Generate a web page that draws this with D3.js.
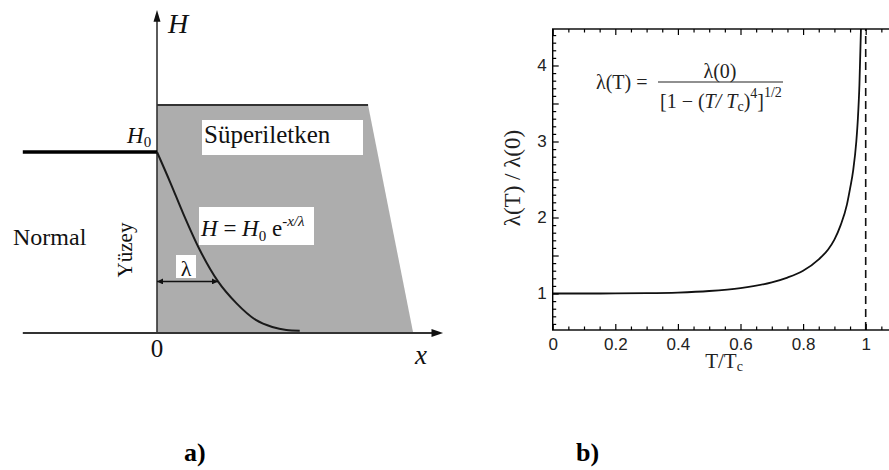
<!DOCTYPE html>
<html>
<head>
<meta charset="utf-8">
<script src="https://cdn.jsdelivr.net/npm/d3@7"></script>
<style>
  body { margin: 0; background: #fff; }
  svg { display: block; }
</style>
</head>
<body>
<svg id="chart"></svg>
<script>
// ---- panel a: field penetration sketch (x in units of lambda, H in units of H0)
const decayX = [0, 0.22, 0.43, 0.70, 1.0, 1.3, 1.62, 1.89, 2.12, 2.34];
const decayH = [1.0, 0.83, 0.66, 0.46, 0.285, 0.165, 0.072, 0.033, 0.017, 0.013];
const slabX = [0, 3.46, 4.2, 0];
const slabH = [1.26, 1.26, 0, 0];
const normalX = [-2.2, 0];
const lambdaMark = 1; // arrow length in lambda units

// ---- panel b: penetration depth vs temperature
const ratioT = [0, 0.1, 0.2, 0.3, 0.4, 0.5, 0.6, 0.7, 0.75, 0.8, 0.85, 0.88, 0.9, 0.92, 0.94, 0.95, 0.96, 0.97, 0.975, 0.98, 0.985];
const ratioL = [1, 1, 1.001, 1.004, 1.013, 1.033, 1.072, 1.147, 1.21, 1.30, 1.45, 1.58, 1.71, 1.9, 2.17, 2.38, 2.62, 3.0, 3.3, 3.75, 4.5];
const xMajor = [0, 0.2, 0.4, 0.6, 0.8, 1];
const yMajor = [1, 1.5, 2, 2.5, 3, 3.5, 4];
const yLabels = [1, 2, 3, 4];

const serif = 'Liberation Serif, Tinos, Times New Roman, DejaVu Serif, serif';
const sans = 'Liberation Sans, Arimo, Arial, sans-serif';

const svg = d3.select('#chart')
  .attr('width', 889)
  .attr('height', 470)
  .style('background', '#fff');

// ================= panel a =================
const a = svg.append('g');
const xA = d3.scaleLinear().domain([0, 1]).range([157, 218]);
const yA = d3.scaleLinear().domain([0, 1]).range([333, 152]);

const slab = slabX.map((x, i) => [x, slabH[i]]);
a.append('path')
  .attr('d', d3.line().x(d => xA(d[0])).y(d => yA(d[1]))(slab) + 'Z')
  .attr('fill', '#adadad');

a.append('line')
  .attr('x1', xA(slabX[0])).attr('x2', xA(slabX[1]))
  .attr('y1', yA(slabH[0])).attr('y2', yA(slabH[1]))
  .attr('stroke', '#333').attr('stroke-width', 2);

// white label boxes
a.append('rect').attr('x', 202).attr('y', 120).attr('width', 161).attr('height', 35).attr('fill', '#fff');
a.append('rect').attr('x', 199).attr('y', 207).attr('width', 115).attr('height', 38).attr('fill', '#fff');
a.append('rect').attr('x', 176).attr('y', 255).attr('width', 20).attr('height', 23).attr('fill', '#fff');

// axes with arrows
a.append('line')
  .attr('x1', xA(-2.2)).attr('x2', xA(4.55))
  .attr('y1', yA(0)).attr('y2', yA(0))
  .attr('stroke', '#333').attr('stroke-width', 2);
a.append('path')
  .attr('d', `M${xA(4.69)},${yA(0)} L${xA(4.5)},${yA(0) - 4} L${xA(4.5)},${yA(0) + 4}Z`)
  .attr('fill', '#111');
a.append('line')
  .attr('x1', xA(0)).attr('x2', xA(0))
  .attr('y1', yA(0)).attr('y2', yA(1.74))
  .attr('stroke', '#333').attr('stroke-width', 1.6);
a.append('path')
  .attr('d', `M${xA(0)},${yA(1.785)} L${xA(0) - 3.5},${yA(1.72)} L${xA(0) + 3.5},${yA(1.72)}Z`)
  .attr('fill', '#111');

// applied field outside
a.append('line')
  .attr('x1', xA(normalX[0])).attr('x2', xA(normalX[1]))
  .attr('y1', yA(1)).attr('y2', yA(1))
  .attr('stroke', '#000').attr('stroke-width', 3.5);

// decay curve
a.append('path')
  .datum(decayX.map((x, i) => [x, decayH[i]]))
  .attr('d', d3.line().x(d => xA(d[0])).y(d => yA(d[1])).curve(d3.curveMonotoneX))
  .attr('fill', 'none')
  .attr('stroke', '#1a1a1a')
  .attr('stroke-width', 2);

// lambda arrow
const defs = svg.append('defs');
defs.append('marker').attr('id', 'ah').attr('viewBox', '0 0 10 10')
  .attr('refX', 10).attr('refY', 5).attr('markerWidth', 7).attr('markerHeight', 6)
  .attr('orient', 'auto-start-reverse').attr('markerUnits', 'userSpaceOnUse')
  .append('path').attr('d', 'M0,0 L10,5 L0,10Z').attr('fill', '#111');
a.append('line')
  .attr('x1', xA(0)).attr('x2', xA(lambdaMark))
  .attr('y1', yA(0.285)).attr('y2', yA(0.285))
  .attr('stroke', '#111').attr('stroke-width', 1.5)
  .attr('marker-start', 'url(#ah)').attr('marker-end', 'url(#ah)');

// texts panel a
const ta = (x, y, size, txt) => a.append('text').attr('x', x).attr('y', y)
  .style('font-family', serif).attr('font-size', size).attr('fill', '#111').text(txt);

ta(168, 33, 28, 'H').attr('font-style', 'italic');
const h0 = a.append('text').attr('x', 127).attr('y', 143).style('font-family', serif).attr('font-size', 23).attr('fill', '#111');
h0.append('tspan').attr('font-style', 'italic').text('H');
h0.append('tspan').attr('font-size', 15).attr('dy', 4).text('0');
ta(204, 143, 25, 'Süperiletken');
ta(13, 245, 24, 'Normal');
ta(186, 276, 22, 'λ').attr('text-anchor', 'middle');
ta(0, 0, 21, 'Yüzey').attr('text-anchor', 'middle')
  .attr('transform', 'translate(132,250) rotate(-90)');
ta(157, 357, 25, '0').attr('text-anchor', 'middle');
ta(415, 364, 27, 'x').attr('font-style', 'italic');

const fa = a.append('text').attr('x', 201).attr('y', 236).style('font-family', serif).attr('font-size', 23).attr('fill', '#111');
fa.append('tspan').attr('font-style', 'italic').text('H');
fa.append('tspan').text(' = ');
fa.append('tspan').attr('font-style', 'italic').text('H');
fa.append('tspan').attr('font-size', 15).attr('dy', 5).text('0');
fa.append('tspan').attr('dy', -5).text(' e');
fa.append('tspan').attr('font-size', 15).attr('dy', -10).attr('font-style', 'italic').text('-x/λ');

// ================= panel b =================
const b = svg.append('g');
const xB = d3.scaleLinear().domain([0, 1]).range([552.7, 865.7]);
const yB = d3.scaleLinear().domain([0.52, 4.48]).range([330, 29]);
const xMax = 1.1;

const xMinor = d3.range(0.05, xMax, 0.05).filter(v => Math.abs(v * 5 - Math.round(v * 5)) > 0.01);
const yMinor = d3.range(0.6, 4.45, 0.1).filter(v => Math.abs(v * 2 - Math.round(v * 2)) > 0.01);

b.append('clipPath').attr('id', 'plot')
  .append('rect')
  .attr('x', xB(0)).attr('y', yB(4.48))
  .attr('width', xB(xMax) - xB(0)).attr('height', yB(0.52) - yB(4.48));

// dashed Tc line
b.append('line')
  .attr('x1', xB(1)).attr('x2', xB(1))
  .attr('y1', yB(0.52)).attr('y2', yB(4.48))
  .attr('stroke', '#111').attr('stroke-width', 1.6)
  .attr('stroke-dasharray', '8,5');

b.append('path')
  .datum(ratioT.map((t, i) => [t, ratioL[i]]))
  .attr('clip-path', 'url(#plot)')
  .attr('d', d3.line().x(d => xB(d[0])).y(d => yB(d[1])).curve(d3.curveMonotoneX))
  .attr('fill', 'none')
  .attr('stroke', '#111')
  .attr('stroke-width', 1.8);

b.append('rect')
  .attr('x', xB(0)).attr('y', yB(4.48))
  .attr('width', xB(xMax) - xB(0)).attr('height', yB(0.52) - yB(4.48))
  .attr('fill', 'none').attr('stroke', '#000').attr('stroke-width', 1.4);

function styleAxis(g) {
  g.select('.domain').remove();
  g.selectAll('line').attr('stroke', '#000').attr('stroke-width', 1.2);
  g.selectAll('text').style('font-family', sans).attr('font-size', 17).attr('fill', '#222');
}

b.append('g').attr('transform', `translate(0,${yB(0.52)})`)
  .call(d3.axisBottom(xB).tickValues(xMajor).tickSize(-6).tickPadding(8).tickFormat(d3.format('~g')))
  .call(styleAxis);
b.append('g').attr('transform', `translate(0,${yB(0.52)})`)
  .call(d3.axisBottom(xB).tickValues(xMinor).tickSize(-3.5).tickFormat(''))
  .call(styleAxis);
b.append('g').attr('transform', `translate(0,${yB(4.48)})`)
  .call(d3.axisTop(xB).tickValues(xMajor).tickSize(-6).tickFormat(''))
  .call(styleAxis);
b.append('g').attr('transform', `translate(0,${yB(4.48)})`)
  .call(d3.axisTop(xB).tickValues(xMinor).tickSize(-3.5).tickFormat(''))
  .call(styleAxis);

b.append('g').attr('transform', `translate(${xB(0)},0)`)
  .call(d3.axisLeft(yB).tickValues(yMajor).tickSize(-6).tickPadding(6)
    .tickFormat(d => yLabels.includes(d) ? d : ''))
  .call(styleAxis);
b.append('g').attr('transform', `translate(${xB(0)},0)`)
  .call(d3.axisLeft(yB).tickValues(yMinor).tickSize(-3.5).tickFormat(''))
  .call(styleAxis);

// axis titles
const xt = b.append('text').attr('x', 724).attr('y', 368).attr('text-anchor', 'middle')
  .style('font-family', serif).attr('font-size', 21).attr('fill', '#222');
xt.append('tspan').text('T/T');
xt.append('tspan').attr('font-size', 14).attr('dy', 3).text('c');

b.append('text')
  .attr('transform', 'translate(520,178) rotate(-90)')
  .attr('text-anchor', 'middle')
  .style('font-family', serif).attr('font-size', 23).attr('fill', '#222')
  .text('λ(T) / λ(0)');

// formula
b.append('text').attr('x', 596).attr('y', 89)
  .style('font-family', serif).attr('font-size', 20).attr('fill', '#222').text('λ(T) =');
b.append('text').attr('x', 720).attr('y', 78).attr('text-anchor', 'middle')
  .style('font-family', serif).attr('font-size', 20).attr('fill', '#222').text('λ(0)');
b.append('line').attr('x1', 658).attr('x2', 783).attr('y1', 82).attr('y2', 82)
  .attr('stroke', '#222').attr('stroke-width', 1.2);
const den = b.append('text').attr('x', 660).attr('y', 108)
  .style('font-family', serif).attr('font-size', 20).attr('fill', '#222');
den.append('tspan').text('[1 − (');
den.append('tspan').attr('font-style', 'italic').text('T/ T');
den.append('tspan').attr('font-size', 14).attr('dy', 3).text('c');
den.append('tspan').attr('dy', -3).text(')');
den.append('tspan').attr('font-size', 14).attr('dy', -10).text('4');
den.append('tspan').attr('dy', 10).text(']');
den.append('tspan').attr('font-size', 14).attr('dy', -11).text('1/2');

// captions
svg.append('text').attr('x', 184).attr('y', 461)
  .style('font-family', serif).attr('font-size', 26).attr('font-weight', 'bold').text('a)');
svg.append('text').attr('x', 576).attr('y', 461)
  .style('font-family', serif).attr('font-size', 26).attr('font-weight', 'bold').text('b)');
</script>
</body>
</html>
